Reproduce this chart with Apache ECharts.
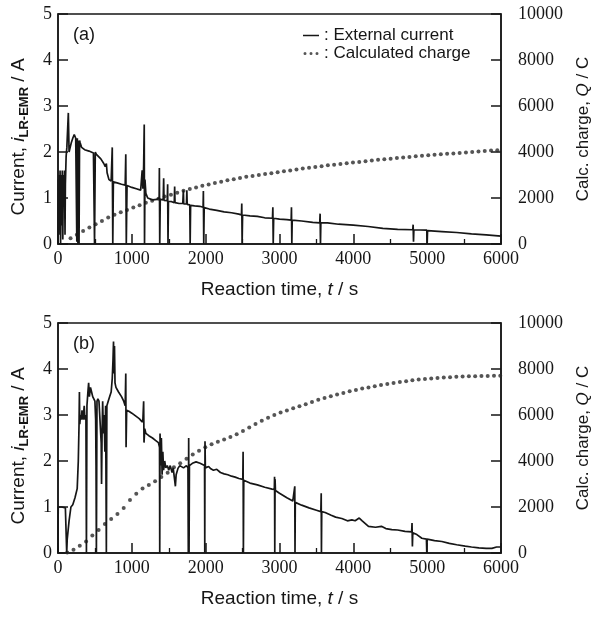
<!DOCTYPE html>
<html>
<head>
<meta charset="utf-8">
<script src="https://cdn.jsdelivr.net/npm/echarts@6/dist/echarts.min.js"></script>
<style>
html,body{margin:0;padding:0;background:#fff;}
#chart{width:595px;height:617px;}
</style>
</head>
<body>
<div id="chart"></div>
<script>
// ---------- data ----------
var xTicks = [0, 1000, 2000, 3000, 4000, 5000, 6000];
var currentTicks = [0, 1, 2, 3, 4, 5];
var chargeTicks = [0, 2000, 4000, 6000, 8000, 10000];

// Panel (a): external current [t (s), i (A)]
var currentA = [
[0,0],[5,1.4],[10,0.2],[15,1.5],[20,0.3],[28,1.6],[35,0],[42,1.5],[50,0.4],[58,1.6],[65,0.1],[72,1.5],[80,0.8],[88,1.6],[95,0.2],[100,1.3],[110,1.9],[120,2.1],[140,2.85],[150,2.0],[165,2.1],[180,2.2],[200,2.3],[220,2.38],[240,2.3],[255,0.05],[262,2.3],[270,0],[278,2.25],[285,0],[292,2.25],[300,2.2],[320,2.1],[360,2.05],[420,2.02],[480,1.98],[495,0],[505,2.0],[520,1.95],[580,1.85],[620,1.75],[640,1.68],[655,1.75],[665,1.55],[690,1.4],[720,1.37],[735,2.1],[742,0],[750,1.35],[800,1.33],[860,1.3],[910,1.28],[918,1.95],[925,0],[935,1.27],[1000,1.23],[1060,1.2],[1120,1.17],[1140,1.6],[1150,1.2],[1160,1.7],[1168,2.6],[1172,0],[1178,1.4],[1190,1.1],[1215,1.0],[1240,0.98],[1280,0.96],[1300,0.98],[1340,0.97],[1370,1.0],[1373,1.65],[1378,0],[1385,0.97],[1425,0.96],[1431,1.43],[1436,0.95],[1480,0.94],[1485,1.3],[1490,0],[1496,0.93],[1540,0.92],[1575,0.9],[1580,1.25],[1585,0.9],[1640,0.88],[1690,0.88],[1698,1.17],[1703,0.87],[1740,0.87],[1745,1.17],[1750,0.86],[1785,0.85],[1790,0],[1796,0.84],[1850,0.83],[1920,0.82],[1965,0.8],[1969,1.15],[1974,0],[1980,0.79],[2050,0.76],[2150,0.73],[2250,0.7],[2350,0.68],[2450,0.65],[2485,0.63],[2489,0.88],[2494,0],[2500,0.63],[2600,0.61],[2700,0.6],[2800,0.57],[2905,0.56],[2910,0.8],[2915,0],[2921,0.56],[3000,0.54],[3100,0.53],[3158,0.52],[3162,0.8],[3167,0],[3172,0.52],[3300,0.5],[3450,0.47],[3545,0.46],[3550,0.66],[3555,0],[3560,0.46],[3650,0.46],[3800,0.43],[4000,0.41],[4200,0.38],[4400,0.34],[4600,0.32],[4805,0.31],[4810,0.42],[4815,0.05],[4820,0.31],[4995,0.3],[5000,0],[5005,0.29],[5200,0.27],[5400,0.25],[5600,0.22],[5800,0.2],[6000,0.17]
];

// Panel (a): calculated charge (C) at sampled times (s)
var chargeTimeA = [170,255,340,425,510,595,680,765,850,935,1020,1105,1190,1275,1360,1445,1530,1615,1700,1785,1870,1955,2040,2125,2210,2295,2380,2465,2550,2635,2720,2805,2890,2975,3060,3145,3230,3315,3400,3485,3570,3655,3740,3825,3910,3995,4080,4165,4250,4335,4420,4505,4590,4675,4760,4845,4930,5015,5100,5185,5270,5355,5440,5525,5610,5695,5780,5865,5950];
var chargeA = [250,400,560,720,860,995,1150,1270,1380,1480,1590,1690,1790,1880,1970,2060,2140,2230,2310,2390,2460,2530,2590,2650,2710,2770,2820,2870,2920,2960,3000,3040,3080,3120,3160,3200,3240,3280,3315,3350,3385,3420,3450,3480,3510,3540,3570,3600,3630,3660,3685,3710,3735,3760,3785,3810,3835,3860,3880,3900,3920,3940,3960,3980,4000,4020,4040,4060,4075];

// Panel (b): external current [t (s), i (A)]
var currentB = [
[0,0],[3,1.0],[50,1.0],[100,0.98],[115,0.98],[118,0],[125,0.3],[150,0.7],[175,1.0],[200,1.05],[230,1.2],[260,1.4],[275,2.0],[285,2.8],[290,3.5],[295,2.8],[305,3.0],[315,2.9],[325,3.1],[340,2.9],[355,3.2],[365,2.9],[378,3.0],[385,0],[392,3.2],[405,3.5],[415,3.7],[425,3.4],[440,3.6],[455,3.5],[470,3.4],[485,3.35],[500,3.3],[510,2.9],[515,1.9],[520,0],[528,3.3],[540,3.35],[555,3.3],[570,3.3],[585,2.4],[590,1.5],[597,2.6],[605,3.3],[615,2.6],[625,3.0],[635,2.2],[645,3.2],[655,0],[662,3.2],[680,3.3],[700,3.4],[720,3.5],[735,3.8],[745,4.2],[752,4.6],[758,3.9],[765,4.5],[772,3.7],[785,3.6],[820,3.5],[860,3.4],[890,3.3],[910,3.2],[918,3.9],[922,2.3],[930,3.1],[960,3.08],[1000,3.04],[1050,2.98],[1100,2.92],[1140,2.85],[1150,2.9],[1160,3.3],[1165,2.4],[1175,2.7],[1190,2.6],[1230,2.55],[1280,2.5],[1320,2.45],[1360,2.4],[1375,2.3],[1378,0],[1382,2.6],[1392,1.9],[1400,2.5],[1410,1.7],[1420,2.2],[1430,1.8],[1445,2.0],[1460,1.85],[1480,1.9],[1500,1.8],[1520,1.9],[1545,1.75],[1560,1.85],[1575,1.65],[1590,1.45],[1600,1.7],[1625,1.84],[1650,1.9],[1700,1.85],[1740,1.9],[1760,1.85],[1765,0],[1770,2.5],[1775,0],[1780,1.9],[1820,1.95],[1870,1.98],[1924,1.95],[1985,1.9],[1988,0],[1991,2.43],[1996,1.85],[2040,1.88],[2070,1.83],[2105,1.8],[2150,1.82],[2200,1.75],[2250,1.72],[2300,1.7],[2350,1.67],[2400,1.65],[2450,1.62],[2503,1.6],[2507,2.2],[2511,0],[2516,1.58],[2600,1.52],[2700,1.48],[2800,1.43],[2900,1.39],[2930,1.38],[2933,1.66],[2936,0],[2940,1.6],[2945,1.36],[3000,1.3],[3100,1.2],[3180,1.13],[3204,1.12],[3207,1.45],[3210,0],[3214,1.1],[3300,1.04],[3400,0.98],[3500,0.93],[3560,0.9],[3565,1.3],[3568,0],[3572,0.9],[3618,0.88],[3700,0.82],[3760,0.78],[3844,0.75],[3920,0.7],[3980,0.72],[4024,0.7],[4080,0.76],[4120,0.7],[4205,0.58],[4300,0.56],[4380,0.58],[4440,0.53],[4521,0.51],[4600,0.5],[4700,0.47],[4790,0.46],[4795,0.65],[4800,0.14],[4805,0.44],[4860,0.4],[4928,0.32],[4990,0.3],[4995,0],[5000,0.3],[5100,0.27],[5199,0.25],[5300,0.21],[5400,0.18],[5515,0.15],[5600,0.13],[5700,0.11],[5800,0.1],[5877,0.1],[5940,0.13],[6000,0.13]
];

// Panel (b): calculated charge (C) at sampled times (s)
var chargeTimeB = [125,210,295,380,465,550,635,720,805,890,975,1060,1145,1230,1315,1400,1485,1570,1655,1740,1825,1910,1995,2080,2165,2250,2335,2420,2505,2590,2675,2760,2845,2930,3015,3100,3185,3270,3355,3440,3525,3610,3695,3780,3865,3950,4035,4120,4205,4290,4375,4460,4545,4630,4715,4800,4885,4970,5055,5140,5225,5310,5395,5480,5565,5650,5735,5820,5905,5990];
var chargeB = [20,140,320,500,760,1000,1260,1480,1700,1960,2300,2580,2800,2960,3120,3300,3490,3730,3900,4100,4280,4450,4600,4730,4840,4940,5040,5160,5300,5460,5610,5750,5880,6000,6110,6200,6290,6380,6470,6570,6660,6740,6820,6890,6960,7030,7090,7150,7200,7250,7300,7350,7390,7430,7470,7510,7540,7570,7590,7610,7630,7645,7660,7670,7680,7690,7695,7700,7705,7705];

var seriesNames = ['External current', 'Calculated charge'];
var panelLabels = ['(a)', '(b)'];

// ---------- build ----------
function pairs(ts, vs) { return ts.map(function (t, i) { return [t, vs[i]]; }); }
function plain(v) { return String(v); }

var serif = 'Liberation Serif';
var sans = 'Liberation Sans';
var ink = '#161616';

function xAxis(gi) {
  return {
    type: 'value', gridIndex: gi, min: xTicks[0], max: xTicks[xTicks.length - 1], interval: 1000,
    name: 'Reaction time, {it|t} / s', nameLocation: 'middle', nameGap: 36, nameMoveOverlap: false,
    nameTextStyle: { fontFamily: sans, fontSize: 19, color: ink, verticalAlign: 'top',
      rich: { it: { fontFamily: sans, fontSize: 19, fontStyle: 'italic', color: ink } } },
    axisLine: { show: true, onZero: false, lineStyle: { color: ink, width: 1.5 } },
    axisTick: { show: true, inside: true, length: 10, lineStyle: { color: ink, width: 1.5 } },
    minorTick: { show: true, splitNumber: 2, length: 5, lineStyle: { color: ink, width: 1.3 } },
    axisLabel: { fontFamily: serif, fontSize: 18, color: ink, margin: 6, formatter: plain, showMinLabel: true, showMaxLabel: true, hideOverlap: false },
    splitLine: { show: false }
  };
}
function yLeft(gi) {
  return {
    type: 'value', gridIndex: gi, position: 'left', min: 0, max: 5, interval: 1,
    name: 'Current, {it|i}{sub|LR-EMR} / A', nameLocation: 'middle', nameGap: 27, nameRotate: 90, nameMoveOverlap: false,
    nameTextStyle: { fontFamily: sans, fontSize: 19, color: ink, lineHeight: 24, padding: [0, 16, 0, 0],
      rich: { it: { fontFamily: sans, fontSize: 19, fontStyle: 'italic', color: ink, lineHeight: 24 },
              sub: { fontFamily: sans, fontSize: 13, fontWeight: 'bold', color: ink, lineHeight: 24, verticalAlign: 'bottom', padding: [8, 0, 0, 0] } } },
    axisLine: { show: true, onZero: false, lineStyle: { color: ink, width: 1.5 } },
    axisTick: { show: true, inside: true, length: 10, lineStyle: { color: ink, width: 1.5 } },
    axisLabel: { fontFamily: serif, fontSize: 18, color: ink, margin: 6, formatter: plain, showMinLabel: true, showMaxLabel: true, hideOverlap: false },
    splitLine: { show: false }
  };
}
function yRight(gi) {
  return {
    type: 'value', gridIndex: gi, position: 'right', min: 0, max: 10000, interval: 2000,
    name: 'Calc. charge, {it|Q} / C', nameLocation: 'middle', nameGap: 74, nameRotate: 90, nameMoveOverlap: false,
    nameTextStyle: { fontFamily: sans, fontSize: 17, color: ink,
      rich: { it: { fontFamily: sans, fontSize: 17, fontStyle: 'italic', color: ink } } },
    axisLine: { show: true, onZero: false, lineStyle: { color: ink, width: 1.5 } },
    axisTick: { show: true, inside: true, length: 10, lineStyle: { color: ink, width: 1.5 } },
    axisLabel: { fontFamily: serif, fontSize: 18, color: ink, margin: 17, formatter: plain, showMinLabel: true, showMaxLabel: true, hideOverlap: false },
    splitLine: { show: false }
  };
}

var lineIcon = 'path://M0,0L0.01,0Z M16,6L15.99,6Z M0,2.2L16,2.2L16,3.8L0,3.8Z';
var dotsIcon = 'path://M0,0L0.01,0Z M16,6L15.99,6Z M0.5,3a1.5,1.5 0 1,0 3,0a1.5,1.5 0 1,0 -3,0Z M6.5,3a1.5,1.5 0 1,0 3,0a1.5,1.5 0 1,0 -3,0Z M12.5,3a1.5,1.5 0 1,0 3,0a1.5,1.5 0 1,0 -3,0Z';

var option = {
  backgroundColor: '#ffffff',
  animation: false,
  grid: [
    { left: 58, top: 14, width: 443, height: 230, show: true, borderColor: ink, borderWidth: 1.5, outerBoundsMode: 'none', containLabel: false },
    { left: 58, top: 323, width: 443, height: 230, show: true, borderColor: ink, borderWidth: 1.5, outerBoundsMode: 'none', containLabel: false }
  ],
  title: [
    { text: panelLabels[0], left: 68, top: 21, textStyle: { fontFamily: sans, fontSize: 18, fontWeight: 'normal', color: ink } },
    { text: panelLabels[1], left: 68, top: 330, textStyle: { fontFamily: sans, fontSize: 18, fontWeight: 'normal', color: ink } }
  ],
  legend: {
    orient: 'vertical', left: 298, top: 22, itemWidth: 16, itemHeight: 6, itemGap: 1,
    formatter: ': {name}',
    textStyle: { fontFamily: sans, fontSize: 17, color: ink, padding: [0, 0, 0, 0] },
    data: [
      { name: seriesNames[0], icon: lineIcon },
      { name: seriesNames[1], icon: dotsIcon }
    ]
  },
  xAxis: [xAxis(0), xAxis(1)],
  yAxis: [yLeft(0), yRight(0), yLeft(1), yRight(1)],
  series: [
    { name: seriesNames[1], type: 'scatter', xAxisIndex: 0, yAxisIndex: 1, data: pairs(chargeTimeA, chargeA),
      symbol: 'circle', symbolSize: 4, itemStyle: { color: '#2a2a2a' }, z: 2 },
    { name: seriesNames[0], type: 'line', xAxisIndex: 0, yAxisIndex: 0, data: currentA,
      showSymbol: false, symbol: 'none', lineStyle: { color: ink, width: 1.7 }, itemStyle: { color: ink }, z: 3 },
    { name: seriesNames[1], type: 'scatter', xAxisIndex: 1, yAxisIndex: 3, data: pairs(chargeTimeB, chargeB),
      symbol: 'circle', symbolSize: 4, itemStyle: { color: '#2a2a2a' }, z: 2 },
    { name: seriesNames[0], type: 'line', xAxisIndex: 1, yAxisIndex: 2, data: currentB,
      showSymbol: false, symbol: 'none', lineStyle: { color: ink, width: 1.7 }, itemStyle: { color: ink }, z: 3 }
  ]
};

var chart = echarts.init(document.getElementById('chart'), null, { renderer: 'canvas' });
chart.setOption(option);
</script>
</body>
</html>
